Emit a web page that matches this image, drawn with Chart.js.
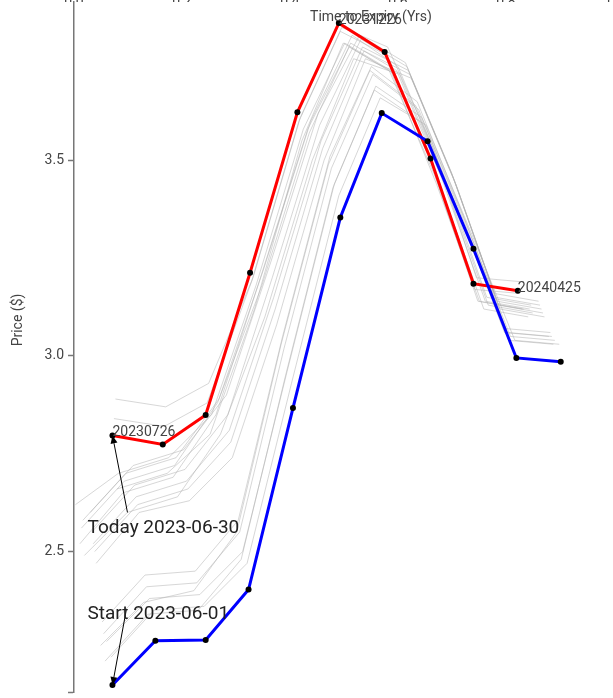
<!DOCTYPE html>
<html>
<head>
<meta charset="utf-8">
<script src="https://cdn.jsdelivr.net/npm/chart.js@4.4.0/dist/chart.umd.min.js"></script>
<style>
  html, body { margin: 0; padding: 0; width: 613px; height: 698px; overflow: hidden; background: #fff; }
  #wrap { position: absolute; left: 0; top: -20px; }
</style>
</head>
<body>
<div id="wrap"><canvas id="chart" width="700" height="730"></canvas></div>
<script>
// contract expiry dates (front to back)
const expiries = ['2023-06-27', '2023-07-26', '2023-08-29', '2023-09-27', '2023-10-27', '2023-11-28',
                  '2023-12-26', '2024-01-26', '2024-02-26', '2024-03-26', '2024-04-25'];

// curve on the start date (blue)
const startDate = '2023-06-01';
const startPrices = [2.159, 2.272, 2.274, 2.403, 2.867, 3.354, 3.621, 3.549, 3.274, 2.995, 2.985];

// curve today (red)
const todayDate = '2023-06-30';
const todayPrices = [2.797, 2.774, 2.849, 3.213, 3.623, 3.851, 3.777, 3.505, 3.185, 3.167];

// curves on the days in between (grey)
const pathDates = ['2023-06-02', '2023-06-05', '2023-06-06', '2023-06-07', '2023-06-08', '2023-06-09',
                   '2023-06-12', '2023-06-13', '2023-06-14', '2023-06-15', '2023-06-16', '2023-06-20',
                   '2023-06-21', '2023-06-22', '2023-06-23', '2023-06-26', '2023-06-27', '2023-06-28',
                   '2023-06-29'];
const pathPrices = [
  [2.23, 2.35, 2.36, 2.47, 2.93, 3.41, 3.66, 3.59, 3.31, 3.04, 3.03],
  [2.27, 2.38, 2.39, 2.50, 2.96, 3.44, 3.69, 3.61, 3.33, 3.05, 3.04],
  [2.22, 2.34, 2.35, 2.48, 2.95, 3.43, 3.68, 3.60, 3.32, 3.04, 3.03],
  [2.29, 2.41, 2.42, 2.55, 3.02, 3.48, 3.72, 3.63, 3.34, 3.06, 3.05],
  [2.32, 2.44, 2.45, 2.58, 3.05, 3.51, 3.74, 3.65, 3.36, 3.07, 3.06],
  [2.26, 2.37, 2.40, 2.55, 3.03, 3.49, 3.73, 3.64, 3.35, 3.06, 3.05],
  [2.47, 2.60, 2.63, 2.74, 3.08, 3.50, 3.76, 3.71, 3.43, 3.12, 3.10],
  [2.50, 2.62, 2.66, 2.78, 3.12, 3.53, 3.78, 3.72, 3.44, 3.13, 3.11],
  [2.52, 2.64, 2.68, 2.81, 3.15, 3.55, 3.79, 3.73, 3.45, 3.14, 3.12],
  [2.55, 2.67, 2.71, 2.85, 3.20, 3.59, 3.81, 3.74, 3.46, 3.15, 3.13],
  [2.60, 2.72, 2.76, 2.90, 3.24, 3.62, 3.82, 3.75, 3.47, 3.16, 3.14],
  [2.49, 2.60, 2.64, 2.80, 3.10, 3.50, 3.76, 3.72, 3.44, 3.13, 3.11],
  [2.58, 2.70, 2.74, 2.89, 3.22, 3.60, 3.82, 3.74, 3.46, 3.15, 3.13],
  [2.56, 2.68, 2.72, 2.88, 3.18, 3.57, 3.80, 3.73, 3.45, 3.14, 3.12],
  [2.52, 2.65, 2.69, 2.85, 3.20, 3.58, 3.79, 3.72, 3.43, 3.12, 3.10],
  [2.62, 2.70, 2.74, 2.85, 3.18, 3.58, 3.80, 3.73, 3.44, 3.14, 3.12],
  [2.66, 2.70, 2.80, 3.12, 3.55, 3.80, 3.73, 3.46, 3.14, 3.12],
  [2.89, 2.87, 2.93, 3.20, 3.61, 3.84, 3.79, 3.53, 3.20, 3.19],
  [2.84, 2.82, 2.88, 3.19, 3.60, 3.83, 3.77, 3.50, 3.17, 3.16]
];

const xTicks = [0, 0.2, 0.4, 0.6, 0.8, 1.0];
const yTicks = [2.5, 3.0, 3.5];
const labelledExpiries = ['20230726', '20231226', '20240425'];
const xTitle = 'Time to Expiry (Yrs)';
const yTitle = 'Price ($)';

// prices line up with the last N expiries, x = years from that day to expiry
function toPoints(date, prices) {
  const exps = expiries.slice(expiries.length - prices.length);
  return prices.map((p, i) => ({
    x: (Date.parse(exps[i]) - Date.parse(date)) / 86400000 / 365,
    y: p,
    exp: exps[i].replace(/-/g, '')
  }));
}

const startPoints = toPoints(startDate, startPrices);
const todayPoints = toPoints(todayDate, todayPrices);

function arrow(ctx, x1, y1, x2, y2) {
  const ang = Math.atan2(y2 - y1, x2 - x1);
  const len = 8, w = 3.5;
  const bx = x2 - len * Math.cos(ang), by = y2 - len * Math.sin(ang);
  ctx.beginPath();
  ctx.moveTo(x1, y1);
  ctx.lineTo(bx, by);
  ctx.stroke();
  ctx.beginPath();
  ctx.moveTo(x2, y2);
  ctx.lineTo(bx + w * Math.sin(ang), by - w * Math.cos(ang));
  ctx.lineTo(bx - w * Math.sin(ang), by + w * Math.cos(ang));
  ctx.closePath();
  ctx.fill();
}

const overlay = {
  id: 'overlay',
  afterDatasetsDraw(chart) {
    const { ctx, chartArea: a } = chart;
    ctx.save();
    ctx.fillStyle = '#444';
    ctx.font = '14px Roboto';
    ctx.textBaseline = 'alphabetic';

    ctx.textAlign = 'center';
    ctx.fillText(xTitle, (a.left + a.right) / 2, a.top + 19);
    ctx.save();
    ctx.translate(22, a.top + 318);
    ctx.rotate(-Math.PI / 2);
    ctx.fillText(yTitle, 0, 0);
    ctx.restore();

    // expiry labels on today's curve
    const red = chart.getDatasetMeta(1).data;
    ctx.textAlign = 'left';
    todayPoints.forEach((p, i) => {
      if (labelledExpiries.includes(p.exp)) ctx.fillText(p.exp, red[i].x, red[i].y + 1);
    });

    // annotations with arrows
    const blue = chart.getDatasetMeta(0).data;
    ctx.fillStyle = '#000';
    ctx.strokeStyle = '#000';
    ctx.lineWidth = 1;
    arrow(ctx, red[0].x + 15, red[0].y + 77, red[0].x, red[0].y);
    arrow(ctx, blue[0].x + 14, blue[0].y - 76, blue[0].x, blue[0].y);
    ctx.fillStyle = '#222';
    ctx.font = '19px Roboto';
    ctx.fillText('Today ' + todayDate, red[0].x - 25, red[0].y + 98);
    ctx.fillText('Start ' + startDate, blue[0].x - 25, blue[0].y - 66);
    ctx.restore();
  }
};

Chart.defaults.font.family = 'Roboto';

const datasets = [
  { data: startPoints, borderColor: '#0000ff', borderWidth: 3, pointRadius: 3,
    pointBackgroundColor: '#000', pointBorderWidth: 0 },
  { data: todayPoints, borderColor: '#ff0000', borderWidth: 3, pointRadius: 3,
    pointBackgroundColor: '#000', pointBorderWidth: 0 }
];
pathDates.forEach((d, i) => {
  datasets.push({ data: toPoints(d, pathPrices[i]), borderColor: 'rgba(175,175,175,0.5)',
    borderWidth: 1, pointRadius: 0 });
});

new Chart(document.getElementById('chart'), {
  type: 'line',
  data: { datasets },
  plugins: [overlay],
  options: {
    responsive: false,
    animation: false,
    devicePixelRatio: 1,
    layout: { padding: { left: 0, top: 0, right: 32, bottom: 18 } },
    elements: { line: { tension: 0 } },
    plugins: { legend: { display: false }, tooltip: { enabled: false } },
    scales: {
      x: {
        type: 'linear', position: 'top', min: 0, max: 1.1,
        afterBuildTicks: s => { s.ticks = xTicks.map(v => ({ value: v })); },
        afterFit: s => { s.height = 22; },
        ticks: { callback: v => v.toFixed(1), color: '#444', font: { size: 14 }, padding: -9, maxRotation: 0 },
        grid: { display: false, drawTicks: false },
        border: { display: false }
      },
      y: {
        min: 2.141, max: 3.905,
        afterBuildTicks: s => { s.ticks = [{ value: s.min }].concat(yTicks.map(v => ({ value: v }))); },
        afterFit: s => { s.width = 74; },
        ticks: { callback: v => yTicks.includes(v) ? v.toFixed(1) : '', color: '#444', font: { size: 14 }, padding: 4 },
        grid: { drawOnChartArea: false, drawTicks: true, tickLength: 6, color: '#777', tickWidth: 1.5 },
        border: { display: true, color: '#777', width: 1.5 }
      }
    }
  }
});
</script>
</body>
</html>
